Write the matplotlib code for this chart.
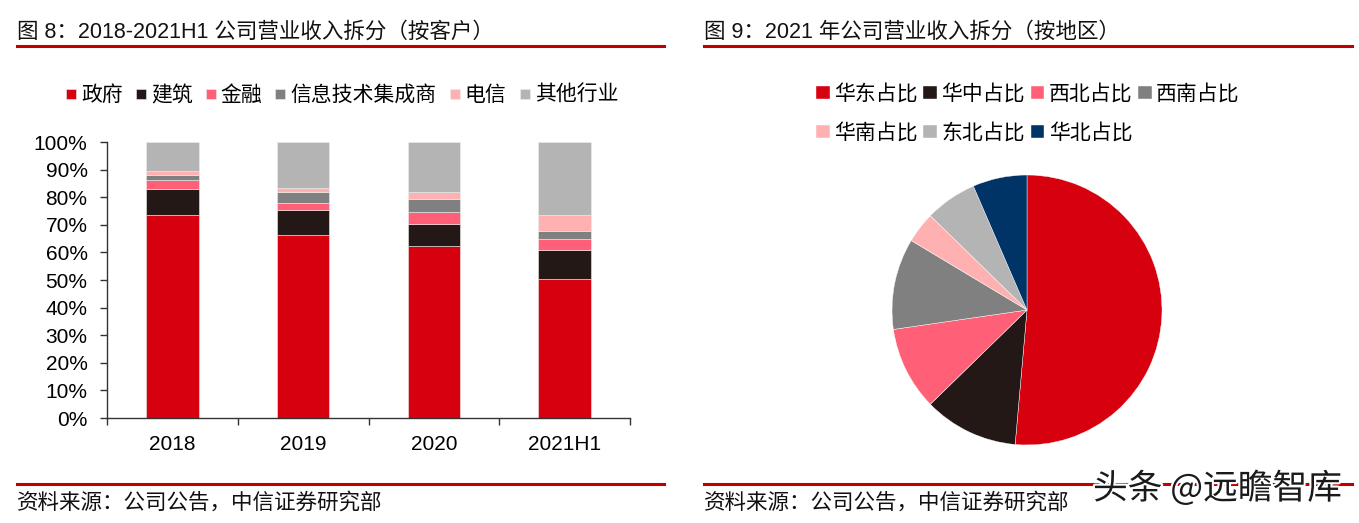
import matplotlib
matplotlib.use("Agg")
import matplotlib.pyplot as plt
import matplotlib.patheffects as pe
import numpy as np

plt.rcParams['font.family'] = ['Liberation Sans', 'Noto Sans CJK SC', 'DejaVu Sans']

# ---------------- data ----------------
years = ["2018", "2019", "2020", "2021H1"]
customer_labels = ["政府", "建筑", "金融", "信息技术集成商", "电信", "其他行业"]
gov = [73.4, 66.2, 62.2, 50.3]
construction = [9.4, 9.1, 8.0, 10.7]
finance = [3.6, 2.5, 4.6, 3.9]
it_integrator = [1.7, 4.0, 4.6, 2.9]
telecom = [1.3, 1.5, 2.4, 5.6]
others = [10.6, 16.7, 18.2, 26.6]
customer_colors = ["#D7000F", "#231815", "#FF6077", "#808080", "#FFB1B2", "#B4B4B4"]

region_labels = ["华东占比", "华中占比", "西北占比", "西南占比", "华南占比", "东北占比", "华北占比"]
region_values = [51.4, 11.3, 10.0, 10.9, 3.7, 6.2, 6.5]
region_colors = ["#D7000F", "#231815", "#FF6077", "#808080", "#FFB1B2", "#B4B4B4", "#003366"]

yticks = [0, 10, 20, 30, 40, 50, 60, 70, 80, 90, 100]
ytick_labels = [f"{v}%" for v in yticks]

title_left = "图 8：2018-2021H1 公司营业收入拆分（按客户）"
title_right = "图 9：2021 年公司营业收入拆分（按地区）"
source_text = "资料来源：公司公告，中信证券研究部"
watermark = "头条 @远瞻智库"

# ---------------- figure ----------------
W, H = 1359, 523
fig = plt.figure(figsize=(W / 100, H / 100), dpi=100)
FS = 15
TFS = 15.5
line_red = "#C00000"

def fx(px):
    return px / W

def fy(py):
    return 1 - py / H

# titles & rules
fig.text(fx(17), fy(32), title_left, fontsize=TFS, va="center", ha="left", color="#111111")
fig.text(fx(704), fy(32), title_right, fontsize=TFS, va="center", ha="left", color="#111111")
for x0, x1 in [(17, 664), (704, 1352)]:
    fig.add_artist(plt.Line2D([fx(x0), fx(x1)], [fy(45.5), fy(45.5)], color=line_red, lw=2.2,
                              transform=fig.transFigure))
    fig.add_artist(plt.Line2D([fx(x0), fx(x1)], [fy(483.5), fy(483.5)], color=line_red, lw=2.2,
                              transform=fig.transFigure))
fig.text(fx(17), fy(503), source_text, fontsize=TFS, va="center", ha="left", color="#111111")
fig.text(fx(704), fy(503), source_text, fontsize=TFS, va="center", ha="left", color="#111111")

# ---------------- bar chart ----------------
ax = fig.add_axes([fx(107), fy(418), fx(630) - fx(107), fy(142) - fy(418)])
x = np.arange(len(years))
series = [gov, construction, finance, it_integrator, telecom, others]
bottom = np.zeros(len(years))
handles = []
for vals, col, lab in zip(series, customer_colors, customer_labels):
    b = ax.bar(x, vals, width=0.4, bottom=bottom, color=col, label=lab,
               edgecolor="#EDEDED", linewidth=0.4)
    handles.append(b)
    bottom += np.array(vals)

ax.set_xlim(-0.5, len(years) - 0.5)
ax.set_ylim(0, 100)
ax.set_yticks(yticks)
ax.set_yticklabels(ytick_labels, fontsize=FS)
ax.set_xticks(x)
ax.set_xticklabels(years, fontsize=FS)
ax.set_xticks(np.arange(-0.5, len(years)), minor=True)
ax.tick_params(axis="x", which="major", length=0, pad=12)
ax.tick_params(axis="x", which="minor", length=5, width=1, color="#333333")
ax.tick_params(axis="y", length=5, width=1, color="#333333", pad=9)
for s in ["top", "right"]:
    ax.spines[s].set_visible(False)
for s in ["left", "bottom"]:
    ax.spines[s].set_color("#333333")
    ax.spines[s].set_linewidth(1)

fig.legend(handles=handles, labels=customer_labels, loc="center",
           bbox_to_anchor=(fx(342), fy(95)), ncol=6, frameon=False, fontsize=FS,
           handlelength=0.48, handleheight=0.36, handletextpad=0.25,
           columnspacing=0.62, borderpad=0, borderaxespad=0)

# ---------------- pie chart ----------------
cx, cy, r = 1027, 310, 135
axp = fig.add_axes([fx(cx - r), fy(cy + r), fx(2 * r), (2 * r) / H])
wedges, _ = axp.pie(region_values, colors=region_colors, startangle=90, counterclock=False,
                    radius=1, wedgeprops=dict(linewidth=0.3, edgecolor="white"))
axp.set_xlim(-1, 1)
axp.set_ylim(-1, 1)
axp.set_aspect("auto")
axp.axis("off")

order = [0, 4, 1, 5, 2, 6, 3]
fig.legend(handles=[wedges[i] for i in order], labels=[region_labels[i] for i in order],
           loc="upper left", bbox_to_anchor=(fx(816), fy(84)), ncol=4, frameon=False,
           fontsize=FS, handlelength=0.65, handleheight=0.6, handletextpad=0.2,
           columnspacing=0.3, labelspacing=0.9, borderpad=0, borderaxespad=0)

# watermark
fig.text(fx(1093), fy(489), watermark, fontsize=25, va="center", ha="left", color="#1a1a1a",
         family=["Noto Sans CJK SC", "DejaVu Sans"],
         path_effects=[pe.withStroke(linewidth=3, foreground="white")])

fig.savefig("out.png", dpi=100)
